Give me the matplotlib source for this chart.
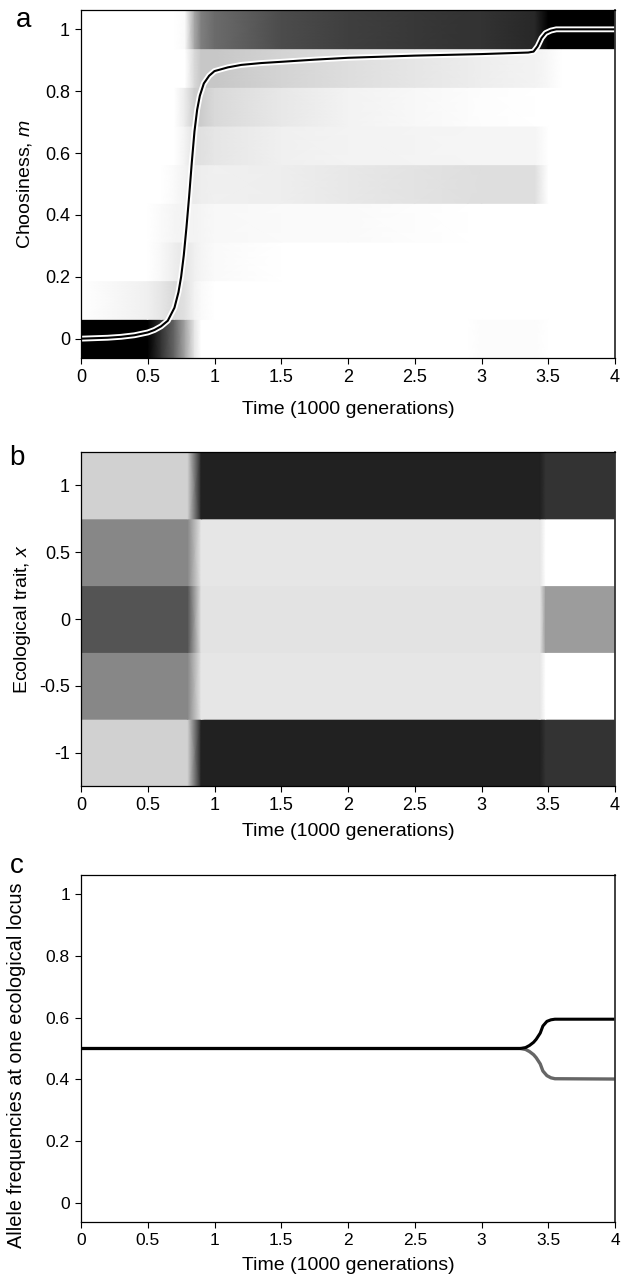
import numpy as np
import matplotlib
matplotlib.use('Agg')
import matplotlib.pyplot as plt

plt.rcParams['font.family'] = ['Liberation Sans', 'DejaVu Sans']
plt.rcParams['mathtext.fontset'] = 'custom'
plt.rcParams['mathtext.it'] = 'Liberation Sans:italic'
plt.rcParams['mathtext.rm'] = 'Liberation Sans'

# ---- panel a: choosiness distribution (darkness 0=white, 1=black) ----
m_classes = [0, 0.125, 0.25, 0.375, 0.5, 0.625, 0.75, 0.875, 1.0]
t_a = [0, 0.5, 0.6, 0.7, 0.78, 0.85, 0.9, 1.0, 1.5, 2.0, 2.5, 2.9, 3.0, 3.4, 3.5, 3.6, 4.0]
dens_m0 = [1, 1, 0.8, 0.6, 0.35, 0.1, 0, 0, 0, 0, 0, 0, 0.015, 0.015, 0, 0, 0]
dens_m1 = [0, 0.06, 0.1, 0.15, 0.12, 0.05, 0.02, 0, 0, 0, 0, 0, 0, 0, 0, 0, 0]
dens_m2 = [0, 0, 0.03, 0.07, 0.1, 0.06, 0.04, 0.02, 0, 0, 0, 0, 0, 0, 0, 0, 0]
dens_m3 = [0, 0, 0.02, 0.04, 0.05, 0.05, 0.04, 0.03, 0.02, 0.02, 0.01, 0, 0, 0, 0, 0, 0]
dens_m4 = [0, 0, 0, 0.02, 0.05, 0.08, 0.07, 0.06, 0.07, 0.09, 0.11, 0.125, 0.13, 0.13, 0, 0, 0]
dens_m5 = [0, 0, 0, 0, 0.05, 0.12, 0.12, 0.1, 0.06, 0.05, 0.045, 0.04, 0.04, 0.04, 0, 0, 0]
dens_m6 = [0, 0, 0, 0, 0.08, 0.2, 0.2, 0.15, 0.09, 0.05, 0.03, 0.015, 0.01, 0, 0, 0, 0]
dens_m7 = [0, 0, 0, 0, 0, 0.15, 0.22, 0.22, 0.17, 0.13, 0.1, 0.075, 0.07, 0.05, 0.03, 0, 0]
dens_m8 = [0, 0, 0, 0, 0.02, 0.35, 0.5, 0.58, 0.7, 0.75, 0.78, 0.8, 0.8, 0.84, 1.0, 1.0, 1.0]

# mean choosiness
t_mean = [0, 0.2, 0.3, 0.4, 0.5, 0.55, 0.6, 0.65, 0.7, 0.73, 0.75, 0.77, 0.79, 0.81, 0.83,
          0.85, 0.87, 0.89, 0.92, 0.96, 1.0, 1.1, 1.2, 1.35, 1.5, 1.75, 2.0, 2.5, 3.0, 3.35,
          3.39, 3.42, 3.45, 3.48, 3.52, 3.56, 4.0]
m_mean = [0.0, 0.003, 0.006, 0.011, 0.02, 0.028, 0.04, 0.058, 0.1, 0.15, 0.2, 0.27, 0.36, 0.46,
          0.57, 0.67, 0.74, 0.785, 0.825, 0.85, 0.865, 0.877, 0.885, 0.891, 0.895, 0.902, 0.908,
          0.915, 0.92, 0.925, 0.928, 0.945, 0.972, 0.988, 0.996, 1.0, 1.0]

# ---- panel b: ecological trait distribution ----
x_classes = [-1, -0.5, 0, 0.5, 1]
t_b = [0, 0.8, 0.9, 3.44, 3.48, 4.0]
dens_xm1 = [0.18, 0.18, 0.87, 0.87, 0.8, 0.8]
dens_xm05 = [0.47, 0.47, 0.1, 0.1, 0, 0]
dens_x0 = [0.67, 0.67, 0.11, 0.11, 0.39, 0.39]
dens_xp05 = [0.47, 0.47, 0.1, 0.1, 0, 0]
dens_xp1 = [0.18, 0.18, 0.87, 0.87, 0.8, 0.8]

# ---- panel c: allele frequencies ----
t_c = [0, 3.2, 3.29, 3.33, 3.36, 3.39, 3.41, 3.44, 3.46, 3.49, 3.52, 3.55, 4.0]
freq_black = [0.5, 0.5, 0.5, 0.503, 0.51, 0.52, 0.53, 0.55, 0.573, 0.588, 0.593, 0.595, 0.595]
freq_gray = [0.5, 0.5, 0.5, 0.497, 0.49, 0.48, 0.47, 0.45, 0.427, 0.412, 0.405, 0.402, 0.401]

time_ticks = [0, 0.5, 1, 1.5, 2, 2.5, 3, 3.5, 4]
time_labels = ['0', '0.5', '1', '1.5', '2', '2.5', '3', '3.5', '4']


def shade_rows(ax, t, centers, half, rows):
    t = np.asarray(t, dtype=float)
    for c, vals in zip(centers, rows):
        X = np.vstack([t, t])
        Y = np.vstack([np.full(len(t), c - half), np.full(len(t), c + half)])
        C = np.vstack([vals, vals])
        ax.pcolormesh(X, Y, C, shading='gouraud', cmap='gray_r', vmin=0, vmax=1,
                      antialiased=False, zorder=1)


def style(ax, fs=13):
    ax.tick_params(direction='out', length=4, width=0.8, labelsize=fs,
                   top=False, right=False, pad=4)
    for s in ax.spines.values():
        s.set_linewidth(0.9)
        s.set_zorder(5)
    ax.spines['right'].set_linewidth(1.3)
    ax.spines['right'].set_color('#333333')


fig = plt.figure(figsize=(6.35, 12.81), dpi=100)
L, W = 81 / 635, 534 / 635
ax_a = fig.add_axes([L, 1 - 358 / 1281, W, 348 / 1281])
ax_b = fig.add_axes([L, 1 - 786 / 1281, W, 334 / 1281])
ax_c = fig.add_axes([L, 1 - 1222 / 1281, W, 347 / 1281])

# panel a
shade_rows(ax_a, t_a, m_classes, 0.0625,
           [dens_m0, dens_m1, dens_m2, dens_m3, dens_m4, dens_m5, dens_m6, dens_m7, dens_m8])
ax_a.plot(t_mean, m_mean, color='white', lw=4.2, solid_capstyle='butt',
          solid_joinstyle='round', zorder=3)
ax_a.plot(t_mean, m_mean, color='black', lw=1.5, solid_capstyle='butt',
          solid_joinstyle='round', zorder=4)
ax_a.set_xlim(0, 4)
ax_a.set_ylim(-0.0625, 1.0625)
ax_a.set_yticks([0, 0.2, 0.4, 0.6, 0.8, 1])
ax_a.set_yticklabels(['0', '0.2', '0.4', '0.6', '0.8', '1'])
ax_a.set_xticks(time_ticks)
ax_a.set_xticklabels(time_labels)
ax_a.set_xlabel('Time (1000 generations)', fontsize=14)
ax_a.set_ylabel('Choosiness, $m$', fontsize=14)
ax_a.xaxis.set_label_coords(0.5, -0.125)
ax_a.yaxis.set_label_coords(-0.088, 0.5)
style(ax_a)

# panel b
shade_rows(ax_b, t_b, x_classes, 0.25,
           [dens_xm1, dens_xm05, dens_x0, dens_xp05, dens_xp1])
ax_b.set_xlim(0, 4)
ax_b.set_ylim(-1.25, 1.25)
ax_b.set_yticks([-1, -0.5, 0, 0.5, 1])
ax_b.set_yticklabels(['-1', '-0.5', '0', '0.5', '1'])
ax_b.set_xticks(time_ticks)
ax_b.set_xticklabels(time_labels)
ax_b.set_xlabel('Time (1000 generations)', fontsize=14)
ax_b.set_ylabel('Ecological trait, $x$', fontsize=14)
ax_b.xaxis.set_label_coords(0.5, -0.11)
ax_b.yaxis.set_label_coords(-0.09, 0.5)
style(ax_b)

# panel c
ax_c.plot(t_c, freq_gray, color='#666666', lw=2.4, zorder=3)
ax_c.plot(t_c, freq_black, color='black', lw=2.2, zorder=4)
ax_c.set_xlim(0, 4)
ax_c.set_ylim(-0.0625, 1.0625)
ax_c.set_yticks([0, 0.2, 0.4, 0.6, 0.8, 1])
ax_c.set_yticklabels(['0', '0.2', '0.4', '0.6', '0.8', '1'])
ax_c.set_xticks(time_ticks)
ax_c.set_xticklabels(time_labels)
ax_c.set_xlabel('Time (1000 generations)', fontsize=14)
ax_c.set_ylabel('Allele frequencies at one ecological locus', fontsize=14.3)
ax_c.xaxis.set_label_coords(0.5, -0.1)
ax_c.yaxis.set_label_coords(-0.103, 0.452)
style(ax_c, fs=12.5)

# panel letters
fig.text(24 / 635, 1 - 20 / 1281, 'a', fontsize=20, ha='center', va='center')
fig.text(17 / 635, 1 - 458 / 1281, 'b', fontsize=20, ha='center', va='center')
fig.text(17 / 635, 1 - 866 / 1281, 'c', fontsize=20, ha='center', va='center')

fig.savefig('out.png', dpi=100)
